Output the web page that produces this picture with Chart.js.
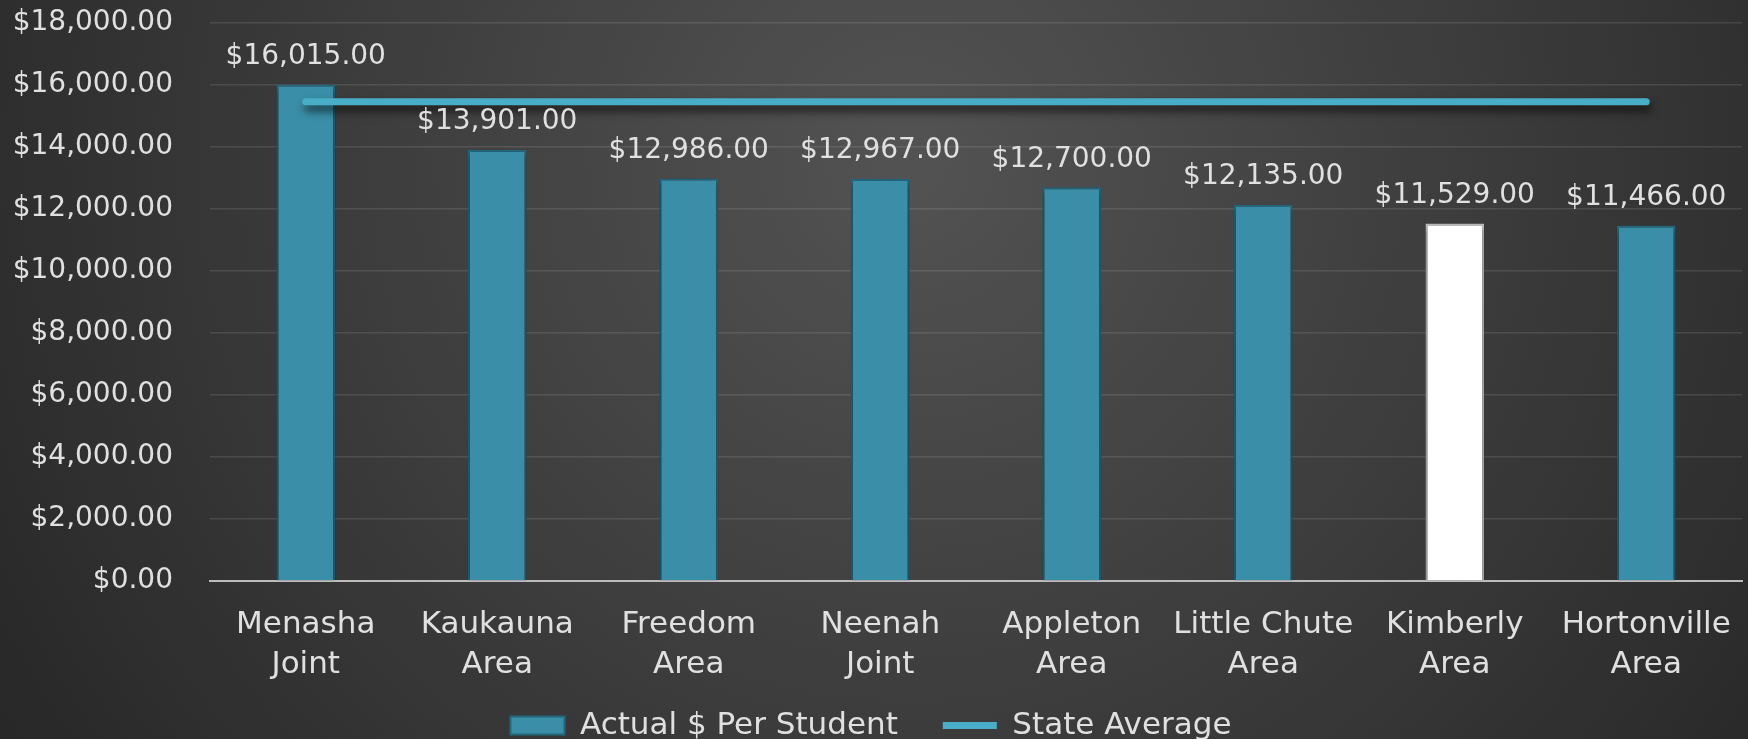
<!DOCTYPE html>
<html><head><meta charset="utf-8">
<script src="https://cdn.jsdelivr.net/npm/chart.js@4"></script>
<style>html,body{margin:0;padding:0;background:#333;overflow:hidden}</style>
</head><body>
<canvas id="c" width="1748" height="739" style="display:block;width:1748px;height:739px"></canvas>
<script>
const categories = [["Menasha","Joint"],["Kaukauna","Area"],["Freedom","Area"],["Neenah","Joint"],["Appleton","Area"],["Little Chute","Area"],["Kimberly","Area"],["Hortonville","Area"]];
const actualPerStudent = [16015, 13901, 12986, 12967, 12700, 12135, 11529, 11466];
const stateAverage = [15460, 15460, 15460, 15460, 15460, 15460, 15460, 15460];
const highlightCategory = "Kimberly";
const seriesNames = ["Actual $ Per Student", "State Average"];
const yMin = 0, yMax = 18000, yStep = 2000;

const fmt = v => '$' + Number(v).toLocaleString('en-US', {minimumFractionDigits: 2, maximumFractionDigits: 2});
const TEXT = '#e0e0e0';
const NUMFONT = {family: '"DejaVu Sans", sans-serif', size: 28};
const WORDFONT = {family: '"DejaVu Sans", sans-serif', size: 31};
const LEGEND_PAD = 45;

const barFill = categories.map(c => c[0] === highlightCategory ? '#ffffff' : '#3a8ea7');
const barBorder = categories.map(c => c[0] === highlightCategory ? '#bdbdbd' : '#22697d');

const bgPlugin = {
  id: 'bg',
  beforeDraw(chart) {
    const ctx = chart.ctx, w = chart.width, h = chart.height;
    const g = ctx.createRadialGradient(w * 0.52, h * 0.22, 20, w * 0.52, h * 0.22, w * 0.62);
    g.addColorStop(0, '#525252');
    g.addColorStop(1, '#272727');
    ctx.save();
    ctx.fillStyle = g;
    ctx.fillRect(0, 0, w, h);
    ctx.restore();
  }
};

const shadowPlugin = {
  id: 'shadow',
  beforeDatasetDraw(chart, args) {
    const ctx = chart.ctx;
    ctx.save();
    if (args.index === 1) {
      ctx.shadowColor = 'rgba(0,0,0,0.65)';
      ctx.shadowBlur = 9;
      ctx.shadowOffsetY = 6;
      ctx.shadowOffsetX = 2;
    } else {
      ctx.shadowColor = 'rgba(0,0,0,0.45)';
      ctx.shadowBlur = 6;
      ctx.shadowOffsetY = 3;
    }
  },
  afterDatasetDraw(chart) { chart.ctx.restore(); }
};

const labelPlugin = {
  id: 'barLabels',
  afterDatasetsDraw(chart) {
    const ctx = chart.ctx;
    const meta = chart.getDatasetMeta(0);
    ctx.save();
    ctx.font = NUMFONT.size + 'px ' + NUMFONT.family;
    ctx.fillStyle = TEXT;
    ctx.textAlign = 'center';
    ctx.textBaseline = 'bottom';
    meta.data.forEach((el, i) => {
      ctx.fillText(fmt(chart.data.datasets[0].data[i]), el.x, el.y - 14);
    });
    ctx.restore();
  }
};

// place the legend row just under the two-line category labels
const legendPlace = {
  id: 'legendPlace',
  afterLayout(chart) {
    const L = chart.legend;
    if (!L) return;
    const h = L.bottom - L.top;
    L.top = chart.chartArea.bottom + 84;
    L.bottom = L.top + h;
  }
};

const chart = new Chart(document.getElementById('c'), {
  data: {
    labels: categories,
    datasets: [
      {
        type: 'bar', label: seriesNames[0], data: actualPerStudent,
        backgroundColor: barFill, borderColor: barBorder, borderWidth: 2,
        barPercentage: 0.6, categoryPercentage: 0.51, order: 1, pointStyle: 'rect'
      },
      {
        type: 'line', label: seriesNames[1], data: stateAverage,
        borderColor: '#4aadc7', backgroundColor: '#4aadc7', borderWidth: 7,
        borderCapStyle: 'round', pointRadius: 0, pointHoverRadius: 0, order: 0,
        pointStyle: 'line', tension: 0
      }
    ]
  },
  options: {
    responsive: false, animation: false, devicePixelRatio: 1,
    layout: {padding: {top: 23, right: 6, left: 0, bottom: 0}},
    plugins: {
      tooltip: {enabled: false},
      legend: {
        position: 'bottom',
        labels: {
          usePointStyle: true, pointStyleWidth: 54, boxHeight: 18,
          color: TEXT, font: WORDFONT, padding: LEGEND_PAD,
          sort: (a, b) => a.datasetIndex - b.datasetIndex
        }
      }
    },
    scales: {
      x: {
        grid: {display: false, drawTicks: false},
        border: {display: true, color: '#bcbcbc', width: 2},
        ticks: {color: TEXT, font: {...WORDFONT, lineHeight: 1.3}, padding: 24, maxRotation: 0, autoSkip: false},
        afterFit(s) { s.height = 124; s.paddingLeft = 0; s.paddingRight = 0; }
      },
      y: {
        min: yMin, max: yMax,
        grid: {color: 'rgba(255,255,255,0.11)', lineWidth: 1.5, drawTicks: false},
        border: {display: false},
        ticks: {stepSize: yStep, color: TEXT, font: NUMFONT, padding: 37, callback: v => fmt(v)},
        afterFit(s) { s.width = 210; s.paddingTop = 0; s.paddingBottom = 0; }
      }
    }
  },
  plugins: [bgPlugin, shadowPlugin, labelPlugin, legendPlace]
});

// pin the plot area to the reference frame (top gridline y=23, baseline y=581)
const dTop = chart.chartArea.top - 23;
const dBottom = chart.chartArea.bottom - 581;
chart.options.layout.padding.top -= dTop;
chart.options.layout.padding.bottom += dBottom;
chart.update();
</script>
</body></html>
